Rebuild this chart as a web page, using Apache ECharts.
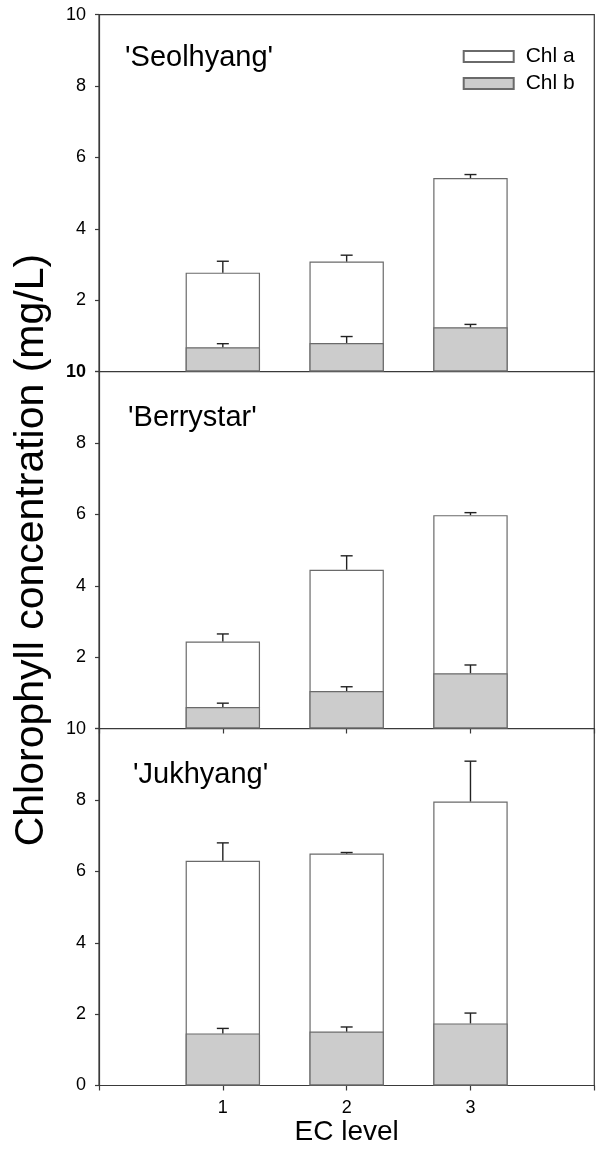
<!DOCTYPE html>
<html>
<head>
<meta charset="utf-8">
<script src="https://cdn.jsdelivr.net/npm/echarts@6/dist/echarts.min.js"></script>
<style>html,body{margin:0;padding:0;background:#fff}#c{width:597px;height:1149px}</style>
</head>
<body>
<div id="c"></div>
<script>
// ---- data ----
const ecLevels = [1, 2, 3];
const panelNames = ["'Seolhyang'", "'Berrystar'", "'Jukhyang'"];
const chlA_Seolhyang = [2.77, 3.08, 5.42];
const chlA_Seolhyang_err = [0.32, 0.18, 0.10];
const chlB_Seolhyang = [0.68, 0.80, 1.24];
const chlB_Seolhyang_err = [0.10, 0.18, 0.08];
const chlA_Berrystar = [2.44, 4.45, 5.98];
const chlA_Berrystar_err = [0.21, 0.39, 0.07];
const chlB_Berrystar = [0.60, 1.05, 1.55];
const chlB_Berrystar_err = [0.11, 0.12, 0.23];
const chlA_Jukhyang = [6.30, 6.50, 7.96];
const chlA_Jukhyang_err = [0.50, 0.03, 1.13];
const chlB_Jukhyang = [1.46, 1.51, 1.74];
const chlB_Jukhyang_err = [0.14, 0.13, 0.29];
const yMin = 0, yMax = 10, yStep = 2;
const xMin = 0, xMax = 4, xStep = 1;
const xTickLabels = ['1', '2', '3'];

const panels = [
  {a: chlA_Seolhyang, ae: chlA_Seolhyang_err, b: chlB_Seolhyang, be: chlB_Seolhyang_err},
  {a: chlA_Berrystar, ae: chlA_Berrystar_err, b: chlB_Berrystar, be: chlB_Berrystar_err},
  {a: chlA_Jukhyang, ae: chlA_Jukhyang_err, b: chlB_Jukhyang, be: chlB_Jukhyang_err}
];

const FONT = "'Liberation Sans', Arial, sans-serif";
const AXC = '#3a3a3a';
const BARB = '#6a6a6a';
const gridTops = [14.7, 371.7, 728.7];
const gridH = 356.8;
const titleY = [60, 420, 777];
const titleX = [125, 128, 133];

const grids = [], xAxes = [], yAxes = [], series = [], graphics = [];

function errRender(params, api) {
  const x = api.value(0), top = api.value(1), hi = api.value(2);
  const p0 = api.coord([x, top]);
  const p1 = api.coord([x, hi]);
  const st = {stroke: '#222', lineWidth: 1.4};
  return {
    type: 'group',
    children: [
      {type: 'line', shape: {x1: p0[0], y1: p0[1], x2: p1[0], y2: p1[1]}, style: st},
      {type: 'line', shape: {x1: p1[0] - 6, y1: p1[1], x2: p1[0] + 6, y2: p1[1]}, style: st}
    ]
  };
}

panels.forEach((p, i) => {
  grids.push({left: 99, right: 2.7, top: gridTops[i], height: gridH, show: true,
    borderColor: AXC, borderWidth: 1.2, backgroundColor: 'transparent', outerBoundsMode: 'none', containLabel: false});
  xAxes.push({
    type: 'value', gridIndex: i, min: xMin, max: xMax, interval: xStep,
    splitLine: {show: false},
    axisLine: {show: true, lineStyle: {color: AXC, width: 1.2}},
    axisTick: {show: i > 0, length: 5, inside: false, lineStyle: {color: AXC, width: 1.2}},
    axisLabel: {show: i === 2, margin: 14, fontSize: 18, color: '#000', fontFamily: FONT,
      formatter: v => (v >= 1 && v <= 3 ? xTickLabels[v - 1] : '')},
    name: i === 2 ? 'EC level' : '', nameLocation: 'middle', nameGap: 33,
    nameTextStyle: {fontSize: 28, color: '#000', fontFamily: FONT}
  });
  yAxes.push({
    type: 'value', gridIndex: i, min: yMin, max: yMax, interval: yStep,
    splitLine: {show: false},
    axisLine: {show: true, lineStyle: {color: AXC, width: 1.2}},
    axisTick: {show: true, length: 4, inside: false, lineStyle: {color: AXC, width: 1.2}},
    axisLabel: {margin: 13, fontSize: 18, color: '#000', fontFamily: FONT,
      formatter: v => {
        if (v === 0 && i < 2) return '';
        if (v === 10 && i === 1) return '{b|10}';
        return String(v);
      },
      rich: {b: {fontSize: 18, fontWeight: 'bold', color: '#000', fontFamily: FONT}}
    },
    name: i === 1 ? 'Chlorophyll concentration (mg/L)' : '', nameLocation: 'middle', nameGap: 47,
    nameTextStyle: {fontSize: 41, color: '#000', fontFamily: FONT}
  });
  series.push({
    name: 'Chl a', type: 'bar', xAxisIndex: i, yAxisIndex: i, barWidth: 74.4, barGap: '-100%',
    itemStyle: {color: '#ffffff', borderColor: BARB, borderWidth: 1.2},
    data: ecLevels.map((x, k) => [x, p.a[k]]), z: 2, silent: true
  });
  series.push({
    name: 'Chl b', type: 'bar', xAxisIndex: i, yAxisIndex: i, barWidth: 74.4, barGap: '-100%',
    itemStyle: {color: '#cccccc', borderColor: BARB, borderWidth: 1.2},
    data: ecLevels.map((x, k) => [x, p.b[k]]), z: 3, silent: true
  });
  series.push({
    type: 'custom', xAxisIndex: i, yAxisIndex: i, renderItem: errRender, z: 5, silent: true,
    data: ecLevels.map((x, k) => [x, p.a[k], p.a[k] + p.ae[k]])
  });
  series.push({
    type: 'custom', xAxisIndex: i, yAxisIndex: i, renderItem: errRender, z: 5, silent: true,
    data: ecLevels.map((x, k) => [x, p.b[k], p.b[k] + p.be[k]])
  });
  graphics.push({type: 'text', left: titleX[i], top: titleY[i] - 17, z: 10,
    style: {text: panelNames[i], fontSize: 29, fill: '#000', fontFamily: FONT}});
});

const chart = echarts.init(document.getElementById('c'), null, {renderer: 'canvas'});
chart.setOption({
  animation: false,
  backgroundColor: '#fff',
  grid: grids, xAxis: xAxes, yAxis: yAxes, series: series,
  graphic: graphics,
  legend: {
    data: [{name: 'Chl a'}, {name: 'Chl b'}],
    orient: 'vertical', left: 462.7, top: 46, itemGap: 6, padding: 0,
    itemWidth: 50, itemHeight: 11, icon: 'rect',
    textStyle: {fontSize: 21, color: '#000', fontFamily: FONT, padding: [0, 0, 0, 7]},
    selectedMode: false
  }
});
</script>
</body>
</html>
